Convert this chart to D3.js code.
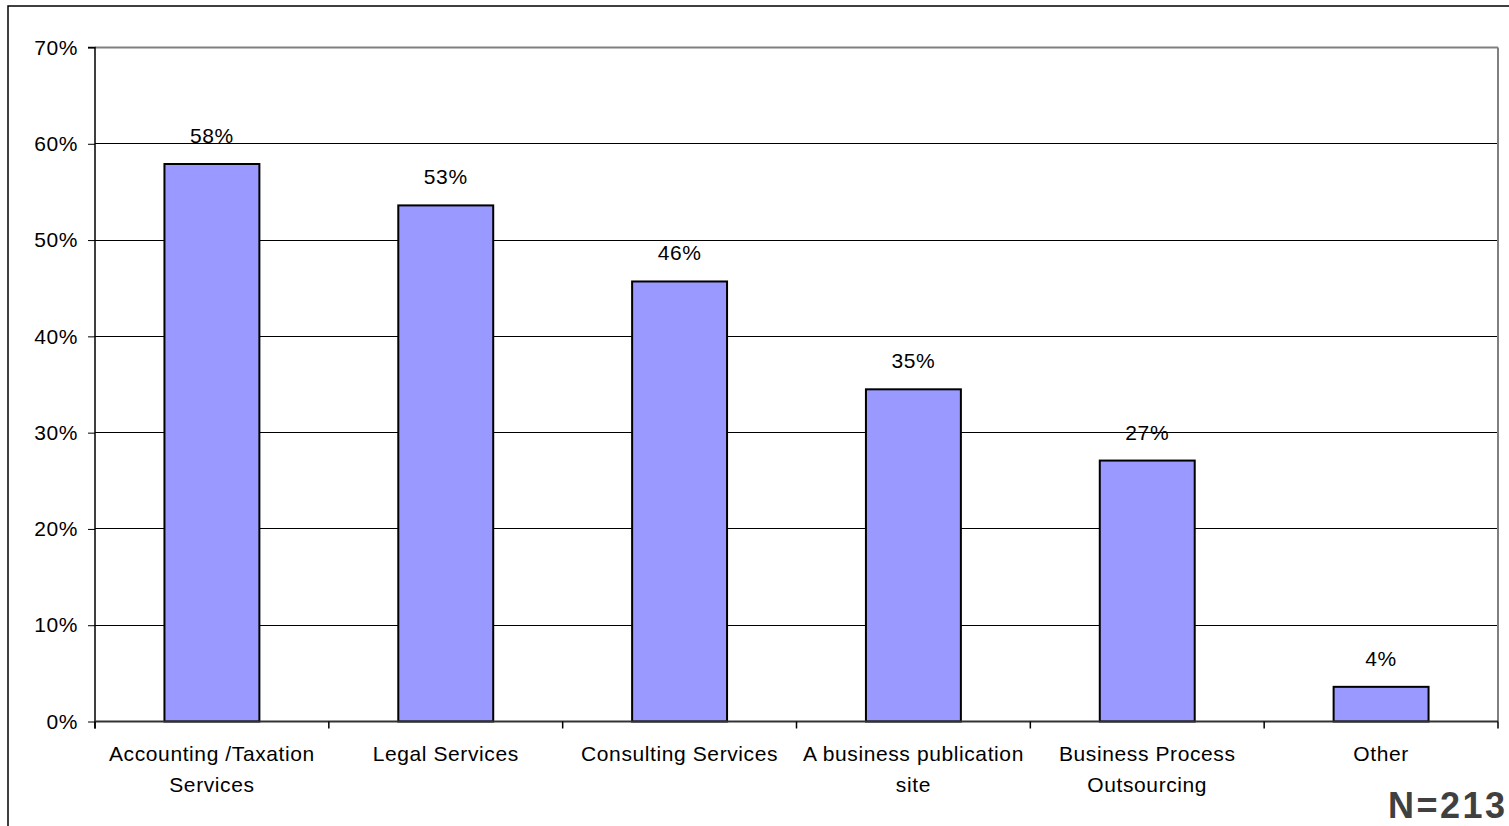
<!DOCTYPE html>
<html>
<head>
<meta charset="utf-8">
<script src="https://cdn.jsdelivr.net/npm/d3@7"></script>
<style>
  html, body { margin: 0; padding: 0; background: #fff; overflow: hidden; }
  svg { display: block; font-family: "Liberation Sans", Arial, sans-serif; }
</style>
</head>
<body>
<svg id="chart" width="1509" height="826"></svg>
<script>
const categories = [
  ["Accounting /Taxation", "Services"],
  ["Legal Services"],
  ["Consulting Services"],
  ["A business publication", "site"],
  ["Business Process", "Outsourcing"],
  ["Other"]
];
const values = [57.9, 53.6, 45.7, 34.5, 27.1, 3.6];
const valueLabels = ["58%", "53%", "46%", "35%", "27%", "4%"];
const yTicks = [0, 10, 20, 30, 40, 50, 60, 70];
const note = "N=213";

const svg = d3.select("#chart");
const pLeft = 95, pRight = 1498, pTop = 47.5, pBottom = 721.5;

const x = d3.scaleBand().domain(d3.range(values.length)).range([pLeft, pRight]).paddingInner(0.594).paddingOuter(0.297);
const y = d3.scaleLinear().domain([0, 70]).range([pBottom, pTop]);

// outer border
svg.append("rect").attr("x", 8).attr("y", 6).attr("width", 1600).attr("height", 900)
  .attr("fill", "none").attr("stroke", "#000").attr("stroke-width", 1.5);

// gridlines
svg.append("g").attr("shape-rendering", "crispEdges").selectAll("line").data(yTicks.filter(t => t > 0 && t < 70)).join("line")
  .attr("x1", pLeft).attr("x2", pRight).attr("y1", d => y(d)).attr("y2", d => y(d))
  .attr("stroke", "#000").attr("stroke-width", 1);

// plot border top/right (gray)
svg.append("line").attr("x1", pLeft).attr("x2", pRight).attr("y1", y(70)).attr("y2", y(70))
  .attr("stroke", "#808080").attr("stroke-width", 2);
svg.append("line").attr("x1", pRight).attr("x2", pRight).attr("y1", y(70)).attr("y2", pBottom)
  .attr("stroke", "#808080").attr("stroke-width", 2);

// bars
svg.append("g").selectAll("rect").data(values).join("rect")
  .attr("x", (d, i) => x(i)).attr("width", x.bandwidth())
  .attr("y", d => y(d)).attr("height", d => y(0) - y(d))
  .attr("fill", "#9999FF").attr("stroke", "#000").attr("stroke-width", 2);

// value labels
svg.append("g").selectAll("text").data(values).join("text")
  .attr("x", (d, i) => x(i) + x.bandwidth() / 2)
  .attr("y", d => y(d) - 21)
  .attr("text-anchor", "middle").attr("font-size", 21).attr("letter-spacing", 0.6)
  .attr("fill", "#000").text((d, i) => valueLabels[i]);

// y axis
const yAxis = d3.axisLeft(y).tickValues(yTicks).tickFormat(d => d + "%").tickSize(7).tickPadding(10);
const gy = svg.append("g").attr("transform", `translate(${pLeft},0)`).call(yAxis);
gy.select(".domain").attr("stroke", "#000").attr("stroke-width", 1.5).attr("d", `M-7,${pTop}H0V${pBottom + 7}`);
gy.selectAll(".tick line").attr("stroke", "#000");
gy.selectAll(".tick text").attr("font-size", 21).attr("letter-spacing", 0.6)
  .attr("font-family", "Liberation Sans, Arial, sans-serif").attr("fill", "#000");

// x axis
const xAxis = d3.axisBottom(x).tickSize(0).tickFormat("");
const gx = svg.append("g").attr("transform", `translate(0,${pBottom})`).call(xAxis);
gx.select(".domain").attr("stroke", "#333").attr("stroke-width", 2).attr("d", `M${pLeft},0H${pRight}`);
const bounds = d3.range(values.length + 1).map(i => pLeft + i * x.step());
gx.append("g").selectAll("line").data(bounds).join("line")
  .attr("x1", d => d).attr("x2", d => d).attr("y1", 0).attr("y2", 7)
  .attr("stroke", "#000").attr("stroke-width", 1.5);

// category labels
const cl = svg.append("g").selectAll("text").data(categories).join("text")
  .attr("text-anchor", "middle").attr("font-size", 21).attr("letter-spacing", 0.6).attr("fill", "#000");
cl.each(function(lines, i) {
  d3.select(this).selectAll("tspan").data(lines).join("tspan")
    .attr("x", x(i) + x.bandwidth() / 2)
    .attr("y", (d, j) => 761 + j * 30.5)
    .text(d => d);
});

// N note
svg.append("text").attr("x", 1388).attr("y", 818).attr("font-size", 36).attr("font-weight", "bold")
  .attr("fill", "#404040").attr("letter-spacing", 2.5).text(note);
</script>
</body>
</html>
